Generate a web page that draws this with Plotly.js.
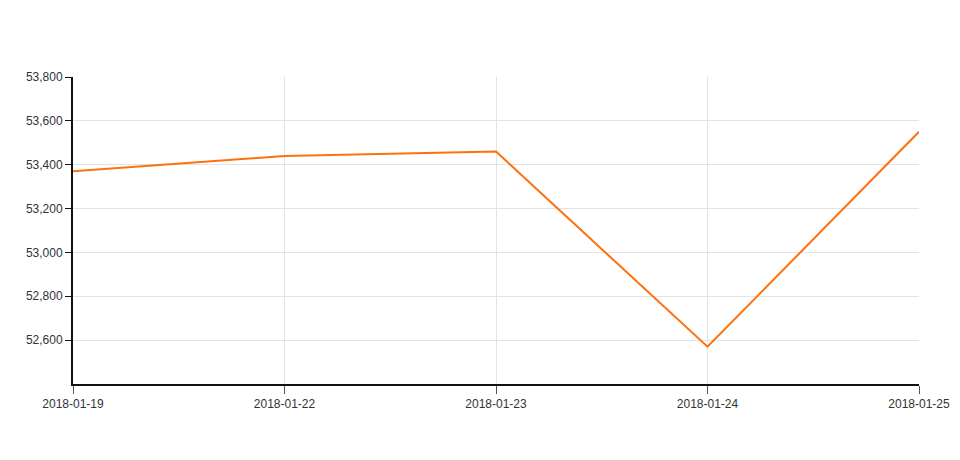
<!DOCTYPE html>
<html>
<head>
<meta charset="utf-8">
<script src="https://cdn.plot.ly/plotly-3.0.1.min.js"></script>
<style>html,body{margin:0;padding:0;background:#fff;}#chart{width:960px;height:460px;}</style>
</head>
<body>
<div id="chart"></div>
<script>
const dates = ["2018-01-19", "2018-01-22", "2018-01-23", "2018-01-24", "2018-01-25"];
const values = [53370, 53440, 53460, 52570, 53550];
const yTicks = [52600, 52800, 53000, 53200, 53400, 53600, 53800];

const trace = {
  x: dates,
  y: values,
  type: "scatter",
  mode: "lines",
  line: {color: "#ff6f0e", width: 2},
  hoverinfo: "x+y"
};

const layout = {
  width: 960,
  height: 460,
  margin: {l: 73, r: 41, t: 77, b: 76},
  paper_bgcolor: "#ffffff",
  plot_bgcolor: "#ffffff",
  showlegend: false,
  font: {family: "Liberation Sans, Arial, sans-serif", size: 12, color: "#333333"},
  xaxis: {
    type: "category",
    range: [0, dates.length - 1],
    showgrid: true,
    gridcolor: "#e3e3e3",
    gridwidth: 1,
    showline: true,
    linecolor: "#111111",
    linewidth: 2,
    ticks: "outside",
    ticklen: 8,
    tickcolor: "#555555",
    tickwidth: 1,
    zeroline: false,
    tickfont: {size: 12, color: "#333333"}
  },
  yaxis: {
    range: [52400, 53800],
    tickvals: yTicks,
    tickformat: ",d",
    showgrid: true,
    gridcolor: "#e3e3e3",
    gridwidth: 1,
    showline: true,
    linecolor: "#111111",
    linewidth: 2,
    ticks: "outside",
    ticklen: 6,
    tickcolor: "#111111",
    tickwidth: 1,
    zeroline: false,
    tickfont: {size: 12, color: "#333333"}
  }
};

Plotly.newPlot("chart", [trace], layout, {displayModeBar: false, staticPlot: true});
</script>
</body>
</html>
